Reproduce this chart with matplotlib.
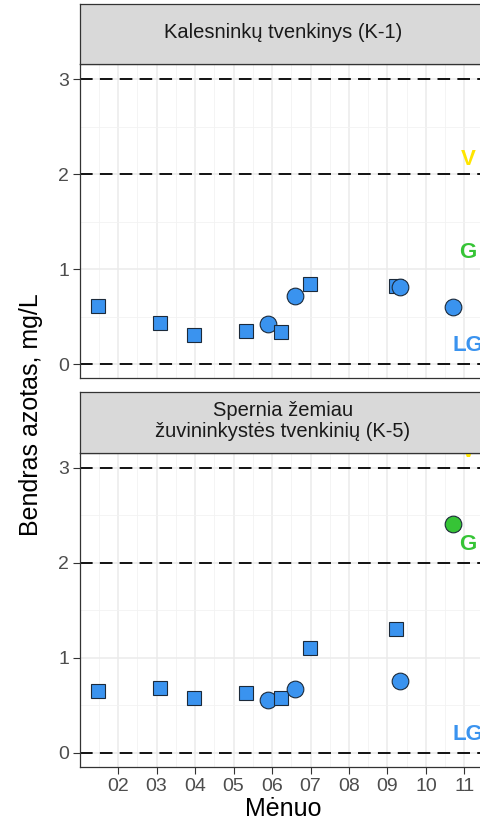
import numpy as np
import matplotlib
matplotlib.use("Agg")
import matplotlib.pyplot as plt

plt.rcParams["font.family"] = ["Liberation Sans", "DejaVu Sans"]

# duomenys (mėnuo kaip trupmeninis skaičius, 2.0 = vasario 1 d.)
menuo = [1.47, 3.09, 3.97, 5.32, 5.90, 6.23, 6.59, 6.98, 9.21, 9.32, 10.69]
forma = ["s", "s", "s", "s", "o", "s", "o", "s", "s", "o", "o"]
k1_vertes = [0.61, 0.435, 0.305, 0.345, 0.42, 0.34, 0.72, 0.84, 0.82, 0.81, 0.60]
k5_vertes = [0.65, 0.68, 0.58, 0.625, 0.555, 0.58, 0.67, 1.105, 1.30, 0.755, 2.41]
k1_klase = ["LG"] * 11
k5_klase = ["LG"] * 10 + ["G"]

pavadinimai = ["Kalesninkų tvenkinys (K-1)",
               "Spernia žemiau\nžuvininkystės tvenkinių (K-5)"]
ribos = [0, 2, 3]
klases = ["LG", "G", "V"]
k1_klasiu_y = [0.20, 1.17, 2.15]
k5_klasiu_y = [0.19, 2.19, 3.17]
klasiu_x = 11.09

spalvos = {"LG": "#3a93ef", "G": "#36c436", "V": "#ffe500"}

men_ticks = list(range(2, 12))
men_labels = ["%02d" % m for m in men_ticks]

W, H = 480, 824
fig = plt.figure(figsize=(W / 100, H / 100), dpi=100)


def px_box(x0, y0, x1, y1):
    return [x0 / W, 1 - y1 / H, (x1 - x0) / W, (y1 - y0) / H]


def panel(y_strip, y_top, y_bot, title, vertes, klase, lab_y, bottom):
    ax = fig.add_axes(px_box(80, y_top, 486, y_bot))
    ax.set_xlim(1.01, 11.56)
    ax.set_ylim(-0.147, 3.158)
    ax.set_xticks(men_ticks)
    ax.set_xticks(np.arange(1.5, 12, 1.0), minor=True)
    ax.set_yticks([0, 1, 2, 3])
    ax.set_yticks([0.5, 1.5, 2.5], minor=True)
    ax.grid(True, which="major", color="#ebebeb", lw=1.1)
    ax.grid(True, which="minor", color="#f2f2f2", lw=0.6)
    ax.set_axisbelow(True)
    for s in ax.spines.values():
        s.set_color("#333333")
        s.set_linewidth(0.9)
    ax.tick_params(which="minor", length=0)
    ax.tick_params(axis="y", which="major", length=5, width=0.8, color="#333333",
                   labelsize=14, labelcolor="#4d4d4d", pad=3)
    if bottom:
        ax.set_xticklabels(men_labels)
        ax.tick_params(axis="x", which="major", length=5, width=0.8, color="#333333",
                       labelsize=14, labelcolor="#4d4d4d", pad=3)
    else:
        ax.tick_params(axis="x", which="major", length=0, labelbottom=False)

    for r in ribos:
        ax.axhline(r, color="black", lw=1.3, ls=(0, (7, 4)), zorder=2)

    for i in range(len(menuo)):
        ms = 10 if forma[i] == "s" else 12
        ax.plot(menuo[i], vertes[i], marker=forma[i], ms=ms, ls="none",
                mfc=spalvos[klase[i]], mec="#1c2a3a", mew=0.8, zorder=3 + i * 0.01)

    for k, yy in zip(klases, lab_y):
        ax.text(klasiu_x, yy, k, color=spalvos[k], fontsize=16, fontweight="bold",
                ha="center", va="center", clip_on=True, zorder=5)

    st = fig.add_axes(px_box(80, y_strip, 486, y_top))
    st.set_facecolor("#d9d9d9")
    st.set_xticks([])
    st.set_yticks([])
    for s in st.spines.values():
        s.set_color("#333333")
        s.set_linewidth(0.9)
    st.text(0.5, 0.52, title, transform=st.transAxes, ha="center", va="center",
            fontsize=14.5, color="#1a1a1a", linespacing=1.12)
    return ax


panel(4, 64, 378, pavadinimai[0], k1_vertes, k1_klase, k1_klasiu_y, False)
panel(392, 452.7, 766.7, pavadinimai[1], k5_vertes, k5_klase, k5_klasiu_y, True)

fig.text(31 / W, 1 - 415 / H, "Bendras azotas, mg/L", rotation=90,
         ha="center", va="center", fontsize=18)
fig.text(283 / W, 1 - 809 / H, "Mėnuo", ha="center", va="center", fontsize=18)

fig.savefig("out.png", dpi=100)
